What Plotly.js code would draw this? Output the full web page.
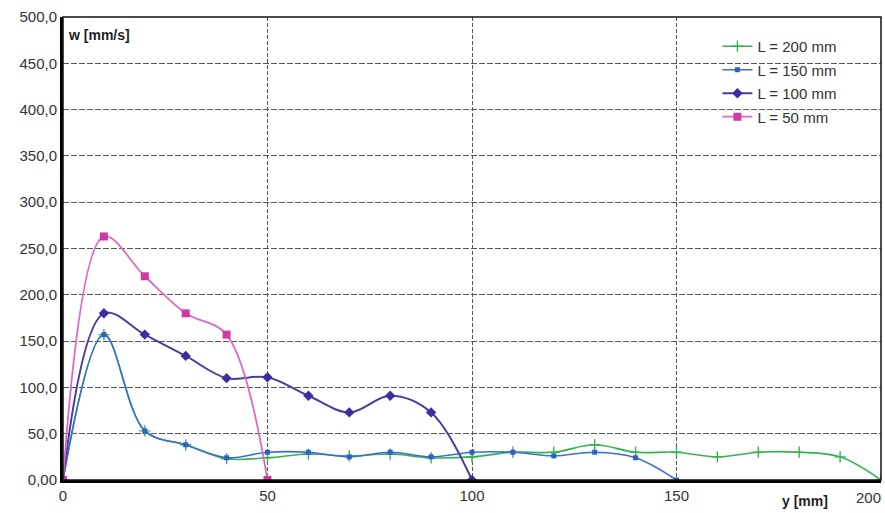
<!DOCTYPE html>
<html>
<head>
<meta charset="utf-8">
<script src="https://cdn.plot.ly/plotly-3.0.1.min.js"></script>
<style>
  html, body { margin: 0; padding: 0; background: #fff; overflow: hidden; }
  #chart { width: 885px; height: 513px; }
</style>
</head>
<body>
<div id="chart"></div>
<script>
// Position along the channel, y [mm]
const y200 = [0, 10, 20, 30, 40, 50, 60, 70, 80, 90, 100, 110, 120, 130, 140, 150, 160, 170, 180, 190, 200];
const y150 = [0, 10, 20, 30, 40, 50, 60, 70, 80, 90, 100, 110, 120, 130, 140, 150];
const y100 = [0, 10, 20, 30, 40, 50, 60, 70, 80, 90, 100];
const y50  = [0, 10, 20, 30, 40, 50];

// Velocity w [mm/s] for each length L
const w200 = [0, 157, 53, 38, 23, 24, 28, 26, 28, 24, 25, 30, 30, 38, 30, 30, 25, 30, 30, 25, 0];
const w150 = [0, 157, 53, 38, 24, 30, 30, 25, 30, 25, 30, 30, 26, 30, 24, 0];
const w100 = [0, 180, 157, 134, 110, 111, 91, 73, 91, 73, 0];
const w50  = [0, 263, 220, 180, 157, 0];

const seriesNames = ['L = 200 mm', 'L = 150 mm', 'L = 100 mm', 'L = 50 mm'];

// Axis ticks
const yTickVals = [0, 50, 100, 150, 200, 250, 300, 350, 400, 450, 500];
const yTickText = ['0,00', '50,0', '100,0', '150,0', '200,0', '250,0', '300,0', '350,0', '400,0', '450,0', '500,0'];
const xTickVals = [0, 50, 100, 150];
const xTickText = ['0', '50', '100', '150'];
const xLastTick = '200';

const FONT = 'Liberation Sans, Arial, sans-serif';
const TICK_FONT = { family: FONT, size: 15, color: '#333333' };

const traces = [
  {
    x: y200, y: w200, name: seriesNames[0], legendgroup: 'a',
    mode: 'lines+markers',
    line: { color: '#35b44e', width: 1.6, shape: 'spline', smoothing: 1 },
    marker: { symbol: 'cross-thin-open', size: 8, color: '#35b44e', line: { color: '#35b44e', width: 1.4 } }
  },
  {
    x: y150, y: w150, name: seriesNames[1], legendgroup: 'b',
    mode: 'lines+markers',
    line: { color: '#3b6fd0', width: 1.6, shape: 'spline', smoothing: 1 },
    marker: { symbol: 'square', size: 5, color: '#2f5fc8' }
  },
  {
    x: y100, y: w100, name: seriesNames[2], legendgroup: 'c',
    mode: 'lines+markers',
    line: { color: '#4b3ca4', width: 2, shape: 'spline', smoothing: 1 },
    marker: { symbol: 'diamond', size: 8, color: '#3d2ea0' }
  },
  {
    x: y50, y: w50, name: seriesNames[3], legendgroup: 'd',
    mode: 'lines+markers',
    line: { color: '#e266c2', width: 1.8, shape: 'spline', smoothing: 1 },
    marker: { symbol: 'square', size: 8, color: '#cf3aa2' }
  }
];

const layout = {
  width: 885, height: 513,
  margin: { l: 63, r: 4, t: 17, b: 33 },
  paper_bgcolor: '#ffffff',
  plot_bgcolor: '#ffffff',
  font: { family: FONT, size: 15, color: '#333333' },
  showlegend: true,
  legend: {
    x: 0.80, y: 0.972, xanchor: 'left', yanchor: 'top',
    bgcolor: 'rgba(255,255,255,0)',
    borderwidth: 0,
    font: { family: FONT, size: 15, color: '#333333' },
    tracegroupgap: 1,
    itemwidth: 30
  },
  xaxis: {
    range: [0, 200],
    tickvals: xTickVals, ticktext: xTickText,
    showgrid: true, gridcolor: '#555555', gridwidth: 1, griddash: '4px,2px',
    zeroline: false,
    showline: true, linecolor: '#000000', linewidth: 3,
    ticks: '', tickfont: TICK_FONT,
    fixedrange: true
  },
  yaxis: {
    range: [0, 500],
    tickvals: yTickVals, ticktext: yTickText,
    showgrid: true, gridcolor: '#555555', gridwidth: 1, griddash: '6px,2px',
    zeroline: false,
    showline: true, linecolor: '#000000', linewidth: 3,
    ticks: '', tickfont: TICK_FONT,
    fixedrange: true
  },
  shapes: [
    { type: 'rect', xref: 'paper', yref: 'paper', x0: 0, x1: 1, y0: 0, y1: 1,
      line: { color: '#111111', width: 1.5 }, fillcolor: 'rgba(0,0,0,0)', layer: 'above' }
  ],
  annotations: [
    { text: '<b>w [mm/s]</b>', xref: 'paper', yref: 'paper', x: 0.004, y: 0.962,
      xanchor: 'left', yanchor: 'middle', showarrow: false,
      font: { family: FONT, size: 14, color: '#222222' } },
    { text: '<b>y [mm]</b>', xref: 'paper', yref: 'paper', x: 0.877, y: -0.045,
      xanchor: 'left', yanchor: 'middle', showarrow: false,
      font: { family: FONT, size: 14, color: '#222222' } },
    // last x tick label, pulled in against the right page edge
    { text: xLastTick, xref: 'paper', yref: 'paper', x: 1, xshift: 2, y: -0.037,
      xanchor: 'right', yanchor: 'middle', showarrow: false,
      font: TICK_FONT }
  ]
};

Plotly.newPlot('chart', traces, layout, { displayModeBar: false, staticPlot: true });
</script>
</body>
</html>
